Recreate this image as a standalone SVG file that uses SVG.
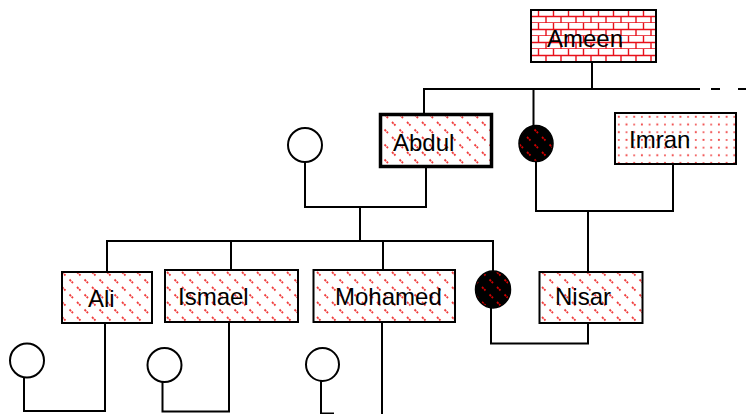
<svg xmlns="http://www.w3.org/2000/svg" width="754" height="414" viewBox="0 0 754 414">
<defs>
<pattern id="diag" patternUnits="userSpaceOnUse" width="15" height="15">
<rect width="15" height="15" fill="#fff"/>
<path d="M2,2 L5.5,5.5 M9.5,9.5 L13,13" stroke="#f03c3c" stroke-width="1.8" stroke-dasharray="2.2,0.8"/>
</pattern>
<pattern id="diagdark" patternUnits="userSpaceOnUse" width="15" height="15">
<rect width="15" height="15" fill="#000"/>
<path d="M2,2 L5.5,5.5 M9.5,9.5 L13,13" stroke="#d00000" stroke-width="1.8" stroke-dasharray="2.2,0.8"/>
</pattern>
<pattern id="brick" patternUnits="userSpaceOnUse" width="15" height="13" x="531" y="10">
<rect width="15" height="13" fill="#fff"/>
<path d="M0,6.5 H15 M0,13 H15 M7.5,0 V6.5 M0,6.5 V13 M15,6.5 V13" stroke="#e8101a" stroke-width="1.4" fill="none"/>
</pattern>
<pattern id="dots" patternUnits="userSpaceOnUse" width="15.4" height="15.4" x="615" y="113">
<rect width="15.4" height="15.4" fill="#fff"/>
<circle cx="3.8" cy="3.8" r="1.1" fill="#f04848"/>
<circle cx="11.5" cy="11.5" r="1.1" fill="#f04848"/>
<circle cx="11.5" cy="3.8" r="1" fill="#f04848"/>
<circle cx="3.8" cy="11.5" r="1" fill="#f04848"/>
</pattern>
</defs>
<style>
.ln{fill:none;stroke:#000;stroke-width:2}
.box{stroke:#000;stroke-width:2}
.male{fill:url(#diag)}
.fem{fill:#fff;stroke:#000;stroke-width:2}
.dark{fill:url(#diagdark);stroke:#000;stroke-width:1.5}
.lbl{font-family:"Liberation Sans",Arial,sans-serif;font-size:24px;fill:#000}
</style>
<g id="connectors">
<path class="ln" d="M592,62 V89"/>
<path class="ln" d="M424,114 V89 H700"/>
<path class="ln" d="M711,89 H720 M738,89 H746"/>
<path class="ln" d="M533.5,89 V126"/>
<path class="ln" d="M305,162 V207 H426 V167"/>
<path class="ln" d="M360,207 V241"/>
<path class="ln" d="M107,272 V241 H493 V271"/>
<path class="ln" d="M231,241 V270 M383,241 V270"/>
<path class="ln" d="M536,161 V211 H673 V164"/>
<path class="ln" d="M588,211 V272"/>
<path class="ln" d="M491,308 V343.5 H588 V323"/>
<path class="ln" d="M105,323 V411 H24 V377"/>
<path class="ln" d="M229,322 V411.5 H162.5 V382"/>
<path class="ln" d="M382,322 V414"/>
<path class="ln" d="M321,381 V414 M321,413.5 H334"/>
</g>
<g id="ameen">
<rect class="box" x="531" y="10" width="125" height="52" fill="url(#brick)"/>
<text class="lbl" x="547" y="47">Ameen</text>
</g>
<g id="abdul">
<rect x="380.5" y="114.5" width="111" height="52" fill="url(#diag)" stroke="#000" stroke-width="3.5"/>
<text class="lbl" x="393" y="151">Abdul</text>
</g>
<g id="abdul-wife">
<circle class="fem" cx="305" cy="145" r="17"/>
</g>
<g id="dark1">
<ellipse class="dark" cx="536" cy="143.5" rx="17" ry="18"/>
</g>
<g id="imran">
<rect class="box" x="615" y="113" width="121" height="51" fill="url(#dots)"/>
<text class="lbl" x="629" y="148">Imran</text>
</g>
<g id="ali">
<rect class="box male" x="62" y="272" width="90" height="51"/>
<text class="lbl" x="88" y="307">Ali</text>
</g>
<g id="ismael">
<rect class="box male" x="165" y="270" width="133" height="52"/>
<text class="lbl" x="178" y="304.5">Ismael</text>
</g>
<g id="mohamed">
<rect class="box male" x="313.5" y="270" width="141.5" height="52"/>
<text class="lbl" x="335" y="305">Mohamed</text>
</g>
<g id="dark2">
<ellipse class="dark" cx="493" cy="289.5" rx="17.5" ry="18.5"/>
</g>
<g id="nisar">
<rect class="box male" x="539.5" y="272" width="103" height="51"/>
<text class="lbl" x="555" y="305">Nisar</text>
</g>
<g id="ali-wife">
<circle class="fem" cx="27" cy="360.5" r="17"/>
</g>
<g id="ismael-wife">
<circle class="fem" cx="164.5" cy="365" r="17"/>
</g>
<g id="mohamed-wife">
<circle class="fem" cx="322.5" cy="364.5" r="16.5"/>
</g>
</svg>
